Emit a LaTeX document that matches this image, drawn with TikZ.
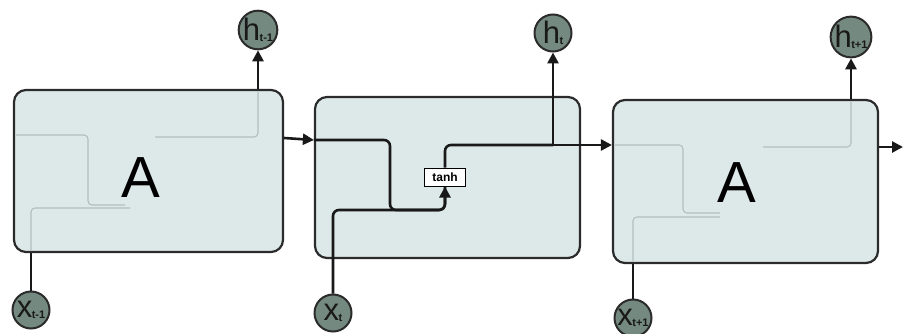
\documentclass[tikz,border=0pt]{standalone}
\usepackage{fontspec}
\setmainfont{Liberation Sans}
\usetikzlibrary{arrows.meta}
\definecolor{cellfill}{HTML}{DDE8E8}
\definecolor{cellline}{HTML}{2B2B2B}
\definecolor{nodefill}{HTML}{74897F}
\definecolor{ghost}{HTML}{B2BEBE}
\newcommand{\iolbl}[2]{{\fontsize{31}{31}\selectfont #1}\kern-0.5pt\raisebox{-0.3ex}{\fontsize{11}{11}\selectfont\bfseries #2}}
\begin{document}
\begin{tikzpicture}[x=1pt,y=-1pt,
  cell/.style={draw=cellline, line width=2.2pt, fill=cellfill, rounded corners=12pt, inner sep=0pt},
  io/.style={circle, draw=cellline, line width=2pt, fill=nodefill, minimum size=37pt, inner sep=0pt, text=black!90},
  wire/.style={draw=black!90, line width=2.6pt, rounded corners=6pt},
  tip/.style={-{Triangle[length=11pt,width=11pt]}},
  ghostline/.style={draw=ghost, line width=1.1pt, rounded corners=4pt},
  gate/.style={draw=black, line width=1pt, fill=white, minimum width=41pt, minimum height=18pt, inner sep=0pt, font=\bfseries\fontsize{12}{12}\selectfont},
  big/.style={font=\fontsize{58}{58}\selectfont}]
\useasboundingbox (0,0) rectangle (904,334);
\fill[white] (0,0) rectangle (904,334);
% cells
\node[cell, minimum width=269pt, minimum height=162pt] (A1) at (148.5,171) {};
\node[cell, minimum width=265pt, minimum height=161pt] (A2) at (447.5,177.5) {};
\node[cell, minimum width=265pt, minimum height=163pt] (A3) at (745.5,181.5) {};
% ghost lines inside cells 1 and 3
\draw[ghostline] (16,135) -- (88,135) -- (88,205) -- (125,205);
\draw[ghostline] (31,251) -- (31,208) -- (130,208);
\draw[ghostline] (155,137) -- (258,137) -- (258,92);
\draw[ghostline] (615,145) -- (683,145) -- (683,213) -- (720,213);
\draw[ghostline] (633,261) -- (633,217) -- (720,217);
\draw[ghostline] (763,147) -- (851,147) -- (851,102);
% labels A
\node[big] (LA1) at (141,178) {A};
\node[big] (LA3) at (737,183) {A};
% io circles
\node[io] (h1) at (258,30) {\iolbl{h}{t-1}};
\node[io] (h2) at (553,33) {\iolbl{h}{t}};
\node[io] (h3) at (851,37) {\iolbl{h}{t+1}};
\node[io] (x1) at (31,310) {\iolbl{x}{t-1}};
\node[io] (x2) at (333,313) {\iolbl{x}{t}};
\node[io] (x3) at (633,318) {\iolbl{x}{t+1}};
% tanh gate
\node[gate] (tanh) at (445,177) {tanh};
% named corner coordinates
\coordinate (c1) at (390,140);
\coordinate (c2) at (390,210);
\coordinate (c3) at (445,210);
\coordinate (c4) at (333,210);
\coordinate (c5) at (445,145);
\coordinate (c6) at (553,145);
\coordinate (o3) at (903,147);
% connectors
\draw[wire, tip] (h1 |- A1.north) -- (h1);
\draw[wire] (x1) -- (x1 |- A1.south);
\draw[wire, tip] (A1.east |- 0,138) -- (A2.west |- 0,140);
\draw[wire] (A2.west |- 0,140) -- (c1) -- (c2) -- (c3) -- (tanh.south);
\draw[wire, tip] (c2) -- (c3) -- (tanh.south);
\draw[wire] (x2) -- (c4) -- (c2);
\draw[wire] (tanh.north) -- (c5) -- (c6);
\draw[wire, tip] (c6) -- (A3.west |- 0,145);
\draw[wire, tip] (c6) -- (h2);
\draw[wire, tip] (h3 |- A3.north) -- (h3);
\draw[wire] (x3) -- (x3 |- A3.south);
\draw[wire, tip] (A3.east |- 0,147) -- (o3);
\end{tikzpicture}
\end{document}
